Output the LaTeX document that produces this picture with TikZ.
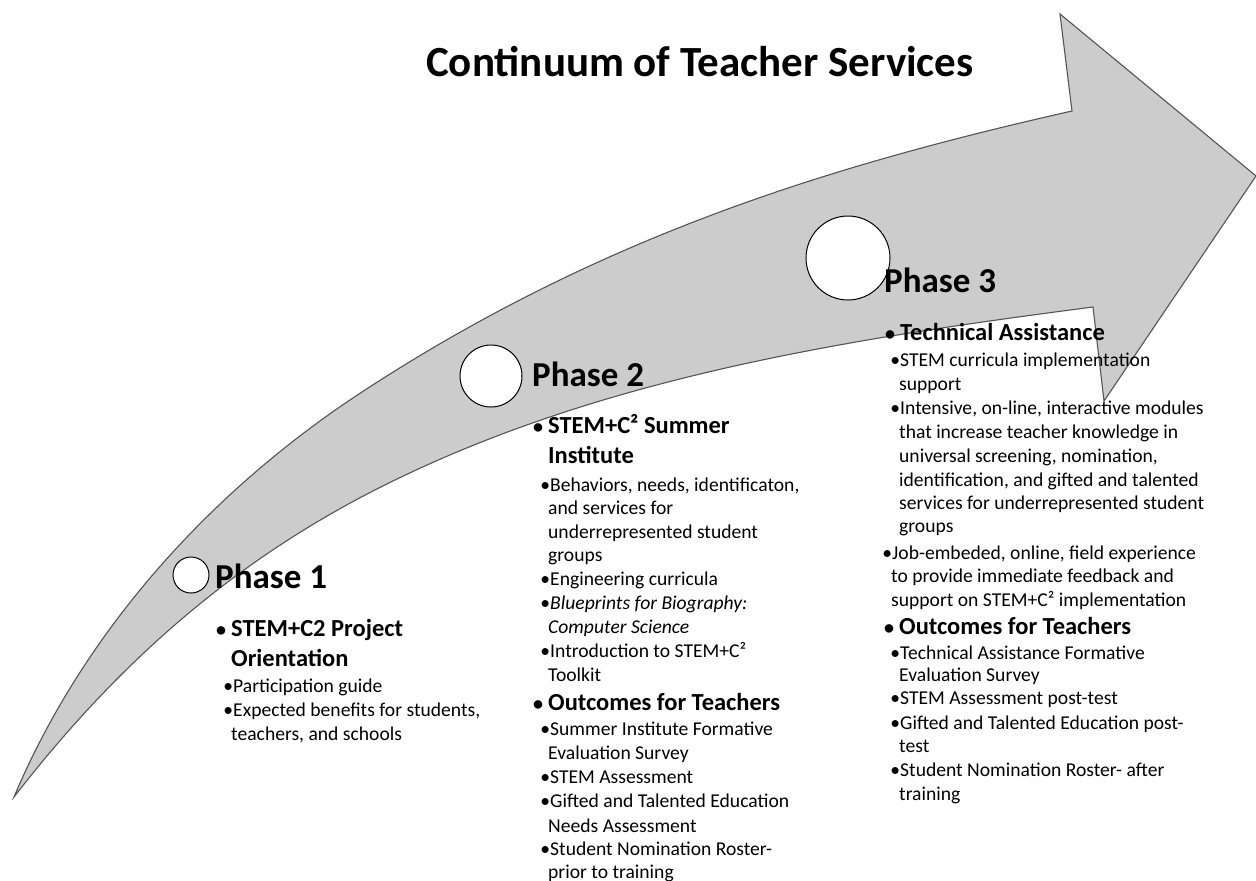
\documentclass[tikz,border=0pt]{standalone}
\usepackage{fontspec}
\setmainfont{Carlito}
\definecolor{arrowfill}{HTML}{CCCCCC}
\definecolor{arrowline}{HTML}{555555}
\newcommand\bul{\llap{•}}
\newcommand\hb{\llap{{\fontsize{20}{24}\selectfont •}\hspace{5pt}}}
\begin{document}
\begin{tikzpicture}[x=1pt,y=-1pt,
  itm/.style={anchor=base west, inner sep=0pt, font=\fontsize{19.6}{24}\selectfont},
  hd/.style={anchor=base west, inner sep=0pt, font=\bfseries\fontsize{24.5}{30}\selectfont},
  phase/.style={anchor=base west, inner sep=0pt, font=\bfseries\fontsize{35}{42}\selectfont},
  ttl/.style={anchor=base, inner sep=0pt, font=\bfseries\fontsize{43}{50}\selectfont},
  marker/.style={circle, draw=black, line width=1pt, fill=white, inner sep=0pt}]
\useasboundingbox (0,0) rectangle (1256,881);
\fill[white] (0,0) rectangle (1256,881);
% curved arrow
\filldraw[fill=arrowfill, draw=arrowline, line width=1.1pt, line join=miter]
  (14,797) .. controls (84,631) and (211,490) .. (365,390)
  .. controls (600,237) and (828,166) .. (1072,111)
  -- (1060,14) -- (1256,176) -- (1104,401) -- (1093,307)
  .. controls (855,338) and (611,375) .. (395,480)
  .. controls (240,555) and (120,660) .. (14,797) -- cycle;
% title
\node[ttl] (title) at (700,76) {Continuum of Teacher Services};
% markers
\node[marker, minimum size=36pt] (c1) at (191,575) {};
\node[marker, minimum size=62pt] (c2) at (491,376) {};
\node[marker, minimum size=84pt] (c3) at (848,258) {};
% phase labels
\node[phase] (ph1) at (215,588) {Phase 1};
\node[phase] (ph2) at (532,386) {Phase 2};
\node[phase] (ph3) at (884,292) {Phase 3};
% Phase 1
\node[hd] (p1h1) at (231,636) {\hb STEM+C2 Project};
\node[hd] (p1h2) at (231,666) {Orientation};
\node[itm] (p1i1) at (233,692) {\bul Participation guide};
\node[itm] (p1i2) at (233,716) {\bul Expected benefits for students,};
\node[itm] (p1i3) at (231,740) {teachers, and schools};
% Phase 2
\node[hd] (p2h1) at (548,433) {\hb STEM+C² Summer};
\node[hd] (p2h2) at (548,463) {Institute};
\node[itm] (p2i1) at (550,491) {\bul Behaviors, needs, identificaton,};
\node[itm] (p2i2) at (548,514) {and services for};
\node[itm] (p2i3) at (548,538) {underrepresented student};
\node[itm] (p2i4) at (548,561) {groups};
\node[itm] (p2i5) at (550,585) {\bul Engineering curricula};
\node[itm] (p2i6) at (550,609) {\bul\textit{Blueprints for Biography:}};
\node[itm] (p2i7) at (548,633) {\textit{Computer Science}};
\node[itm] (p2i8) at (550,657) {\bul Introduction to STEM+C²};
\node[itm] (p2i9) at (548,681) {Toolkit};
\node[hd] (p2h3) at (548,710) {\hb Outcomes for Teachers};
\node[itm] (p2o1) at (550,735) {\bul Summer Institute Formative};
\node[itm] (p2o2) at (548,759) {Evaluation Survey};
\node[itm] (p2o3) at (550,783) {\bul STEM Assessment};
\node[itm] (p2o4) at (550,807) {\bul Gifted and Talented Education};
\node[itm] (p2o5) at (548,832) {Needs Assessment};
\node[itm] (p2o6) at (550,855) {\bul Student Nomination Roster-};
\node[itm] (p2o7) at (548,878) {prior to training};
% Phase 3
\node[hd] (p3h1) at (900,340) {\hb Technical Assistance};
\node[itm] (p3i1) at (900,366) {\bul STEM curricula implementation};
\node[itm] (p3i2) at (899,390) {support};
\node[itm] (p3i3) at (900,414) {\bul Intensive, on-line, interactive modules};
\node[itm] (p3i4) at (899,438) {that increase teacher knowledge in};
\node[itm] (p3i5) at (899,462) {universal screening, nomination,};
\node[itm] (p3i6) at (899,486) {identification, and gifted and talented};
\node[itm] (p3i7) at (899,509) {services for underrepresented student};
\node[itm] (p3i8) at (899,532) {groups};
\node[itm] (p3i9) at (892,559) {\bul Job-embeded, online, field experience};
\node[itm] (p3i10) at (891,582) {to provide immediate feedback and};
\node[itm] (p3i11) at (891,606) {support on STEM+C² implementation};
\node[hd] (p3h2) at (899,634) {\hb Outcomes for Teachers};
\node[itm] (p3o1) at (900,659) {\bul Technical Assistance Formative};
\node[itm] (p3o2) at (899,681) {Evaluation Survey};
\node[itm] (p3o3) at (900,704) {\bul STEM Assessment post-test};
\node[itm] (p3o4) at (900,729) {\bul Gifted and Talented Education post-};
\node[itm] (p3o5) at (899,752) {test};
\node[itm] (p3o6) at (900,776) {\bul Student Nomination Roster- after};
\node[itm] (p3o7) at (899,800) {training};
\end{tikzpicture}
\end{document}
